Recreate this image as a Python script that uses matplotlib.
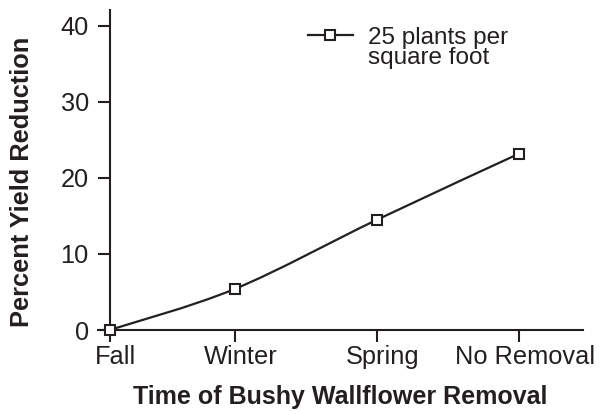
import matplotlib
matplotlib.use("Agg")
import matplotlib.pyplot as plt
import matplotlib.transforms as mtransforms
from matplotlib.path import Path
from matplotlib.patches import PathPatch
from matplotlib.lines import Line2D
import numpy as np

plt.rcParams['font.family'] = ['Liberation Sans', 'DejaVu Sans']

categories = ["Fall", "Winter", "Spring", "No Removal"]
cat_pos = [0.0, 0.88, 1.88, 2.88]
yield_reduction = [0.0, 5.4, 14.5, 23.2]
series_label_lines = ["25 plants per", "square foot"]
y_ticks = [0, 10, 20, 30, 40]

ink = '#231f20'

fig = plt.figure(figsize=(6.05, 4.11), dpi=100)
ax = fig.add_axes([98/605, 1 - 330/411, (583-98)/605, 320/411])

# smooth curve (Catmull-Rom -> cubic Bezier) through the data points
P = np.column_stack([cat_pos, yield_reduction])
ext = np.vstack([P[0], P, P[-1]])
verts = [tuple(P[0])]
codes = [Path.MOVETO]
for i in range(len(P) - 1):
    p0, p1, p2, p3 = ext[i], ext[i+1], ext[i+2], ext[i+3]
    c1 = p1 + (p2 - p0) / 6.0
    c2 = p2 - (p3 - p1) / 6.0
    verts += [tuple(c1), tuple(c2), tuple(p2)]
    codes += [Path.CURVE4] * 3
ax.add_patch(PathPatch(Path(verts, codes), facecolor='none', edgecolor=ink, lw=1.6, zorder=3))

ax.plot(cat_pos, yield_reduction, linestyle='none', color=ink, marker='s', markersize=7,
        markerfacecolor='white', markeredgecolor=ink, markeredgewidth=1.5,
        zorder=4, clip_on=False)

handle = Line2D([], [], color=ink, lw=1.6, marker='s', markersize=7,
                markerfacecolor='white', markeredgecolor=ink, markeredgewidth=1.5)
blank = Line2D([], [], color='none', lw=0)
leg = ax.legend([handle, blank], series_label_lines, loc='upper left',
                bbox_to_anchor=(0.433, 0.948),
                frameon=False, fontsize=17.5, handlelength=1.85, handletextpad=0.6,
                borderpad=0, borderaxespad=0, labelspacing=-0.05, labelcolor=ink)

ax.set_xlim(-0.082, 3.33)
ax.set_ylim(0, 42.1)
ax.set_xticks(cat_pos)
ax.set_xticklabels(categories)
ax.set_yticks(y_ticks)

ax.spines['top'].set_visible(False)
ax.spines['right'].set_visible(False)
ax.spines['left'].set_position(('data', 0))
for s in ['left', 'bottom']:
    ax.spines[s].set_linewidth(1.5)
    ax.spines[s].set_color(ink)

ax.tick_params(axis='both', direction='out', length=8.5, width=1.5, color=ink,
               labelsize=18.3, labelcolor=ink)
ax.tick_params(axis='x', pad=2)
ax.tick_params(axis='y', pad=6.5)

offset = mtransforms.ScaledTranslation(4/72, 0, fig.dpi_scale_trans)
for lab in ax.get_xticklabels():
    lab.set_transform(lab.get_transform() + offset)

ax.set_xlabel("Time of Bushy Wallflower Removal", fontsize=18, fontweight='bold', color=ink, va='center')
ax.xaxis.set_label_coords(0.5, -0.209)
ax.set_ylabel("Percent Yield Reduction", fontsize=18.3, fontweight='bold', color=ink, va='center')
ax.yaxis.set_label_coords(-0.157, 0.464)

fig.savefig("out.png", dpi=100)
